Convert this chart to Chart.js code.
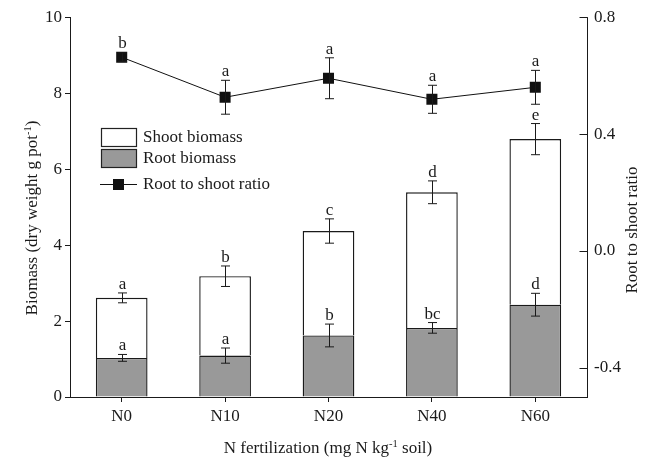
<!DOCTYPE html>
<html><head><meta charset="utf-8">
<script src="https://cdn.jsdelivr.net/npm/chart.js@4"></script>
<style>html,body{margin:0;padding:0;background:#fff}#wrap{width:648px;height:459px}</style>
</head><body><div id="wrap"><canvas id="c" width="648" height="459"></canvas></div>
<script>
const categories = ['N0','N10','N20','N40','N60'];
const rootBiomass = [1.03, 1.09, 1.62, 1.82, 2.43];
const shootBiomass = [1.58, 2.09, 2.75, 3.57, 4.36];
const rootErr = [0.09, 0.20, 0.30, 0.14, 0.30];
const totalErr = [0.13, 0.27, 0.32, 0.30, 0.41];
const ratio = [0.663, 0.526, 0.591, 0.519, 0.560];
const ratioErr = [0.015, 0.058, 0.070, 0.048, 0.058];
const totalLetters = ['a','b','c','d','e'];
const rootLetters = ['a','a','b','bc','d'];
const ratioLetters = ['b','a','a','a','a'];
const leftTicks = [0,2,4,6,8,10];
const rightTicks = [-0.4, 0.0, 0.4, 0.8];

const FONT = 'Liberation Serif, Times New Roman, serif';
const INK = '#1a1a1a';
const FS = 17;

function drawRich(ctx, parts, size) {
  let w = 0;
  parts.forEach(p => { ctx.font = (p.sup ? size*0.62 : size) + 'px ' + FONT; p.w = ctx.measureText(p.t).width; w += p.w; });
  let x = -w/2;
  parts.forEach(p => {
    ctx.font = (p.sup ? size*0.62 : size) + 'px ' + FONT;
    ctx.fillText(p.t, x, p.sup ? -size*0.38 : 0);
    x += p.w;
  });
}

const extras = {
  id: 'extras',
  afterDatasetsDraw(chart) {
    const ctx = chart.ctx;
    const xs = chart.scales.x, y = chart.scales.y, y2 = chart.scales.y2;
    ctx.save();
    ctx.strokeStyle = INK; ctx.fillStyle = INK; ctx.lineWidth = 1;
    const cap = 4.5;
    function eb(x, top, bot) {
      ctx.beginPath();
      ctx.moveTo(x, top); ctx.lineTo(x, bot);
      ctx.moveTo(x-cap, top); ctx.lineTo(x+cap, top);
      ctx.moveTo(x-cap, bot); ctx.lineTo(x+cap, bot);
      ctx.stroke();
    }
    ctx.font = FS + 'px ' + FONT; ctx.textAlign = 'center'; ctx.textBaseline = 'alphabetic';
    categories.forEach((c, i) => {
      const x = Math.round(xs.getPixelForValue(i)) + 0.5;
      const tot = rootBiomass[i] + shootBiomass[i];
      const tTop = y.getPixelForValue(tot + totalErr[i]);
      eb(x, tTop, y.getPixelForValue(tot - totalErr[i]));
      ctx.fillText(totalLetters[i], x, tTop - 4);
      const rTop = y.getPixelForValue(rootBiomass[i] + rootErr[i]);
      eb(x, rTop, y.getPixelForValue(rootBiomass[i] - rootErr[i]));
      ctx.fillText(rootLetters[i], x, rTop - 4);
      const pTop = y2.getPixelForValue(ratio[i] + ratioErr[i]);
      eb(x, pTop, y2.getPixelForValue(ratio[i] - ratioErr[i]));
      const py = y2.getPixelForValue(ratio[i]);
      ctx.fillText(ratioLetters[i], x, Math.min(pTop, py - 5.5) - 4);
    });
    ctx.restore();
  },
  afterDraw(chart) {
    const ctx = chart.ctx;
    const a = chart.chartArea;
    const y2 = chart.scales.y2;
    ctx.save();
    ctx.strokeStyle = INK; ctx.lineWidth = 1;
    // right axis line and inward ticks
    const rx = Math.round(a.right) + 0.5;
    ctx.beginPath(); ctx.moveTo(rx, a.top); ctx.lineTo(rx, a.bottom); ctx.stroke();
    rightTicks.forEach(v => {
      const yy = Math.round(y2.getPixelForValue(v)) + 0.5;
      ctx.beginPath(); ctx.moveTo(rx - 8, yy); ctx.lineTo(rx, yy); ctx.stroke();
    });
    // legend
    ctx.lineWidth = 1.2;
    ctx.fillStyle = '#fff'; ctx.strokeStyle = '#222';
    ctx.fillRect(101.5, 128.5, 35, 18); ctx.strokeRect(101.5, 128.5, 35, 18);
    ctx.fillStyle = '#999';
    ctx.fillRect(101.5, 149.5, 35, 18); ctx.strokeRect(101.5, 149.5, 35, 18);
    ctx.lineWidth = 1;
    ctx.strokeStyle = '#111';
    ctx.beginPath(); ctx.moveTo(100, 184.5); ctx.lineTo(137, 184.5); ctx.stroke();
    ctx.fillStyle = '#111'; ctx.fillRect(113, 179, 11, 11);
    ctx.fillStyle = INK; ctx.font = FS + 'px ' + FONT; ctx.textAlign = 'left'; ctx.textBaseline = 'middle';
    ctx.fillText('Shoot biomass', 143, 137.5);
    ctx.fillText('Root biomass', 143, 159);
    ctx.fillText('Root to shoot ratio', 143, 185);
    // axis titles
    ctx.textAlign = 'left'; ctx.textBaseline = 'alphabetic';
    ctx.save(); ctx.translate(37, 218); ctx.rotate(-Math.PI/2);
    drawRich(ctx, [{t:'Biomass (dry weight g pot'},{t:'-1',sup:true},{t:')'}], FS);
    ctx.restore();
    ctx.save(); ctx.translate(637, 230); ctx.rotate(-Math.PI/2);
    drawRich(ctx, [{t:'Root to shoot ratio'}], FS);
    ctx.restore();
    ctx.save(); ctx.translate(328, 453);
    drawRich(ctx, [{t:'N fertilization (mg N kg'},{t:'-1',sup:true},{t:' soil)'}], FS);
    ctx.restore();
    ctx.restore();
  }
};

const tickFont = {family: FONT, size: FS};
new Chart(document.getElementById('c'), {
  type: 'bar',
  data: {
    labels: categories,
    datasets: [
      {type:'line', label:'Root to shoot ratio', data: ratio, yAxisID:'y2', borderColor:'#111', borderWidth:1,
       pointStyle:'rect', pointRadius:7.8, pointBackgroundColor:'#111', pointBorderColor:'#111', pointBorderWidth:0, order:0},
      {label:'Root biomass', data: rootBiomass, backgroundColor:'#999', borderColor:'#1a1a1a', borderWidth:1.4,
       borderSkipped:'start', stack:'s', yAxisID:'y', order:1},
      {label:'Shoot biomass', data: shootBiomass, backgroundColor:'#fff', borderColor:'#1a1a1a', borderWidth:1.4,
       borderSkipped:'start', stack:'s', yAxisID:'y', order:2}
    ]
  },
  options: {
    responsive:false, animation:false, devicePixelRatio:1,
    layout:{padding:{top:17, left:0, right:0, bottom:0}},
    plugins:{legend:{display:false}, tooltip:{enabled:false}},
    datasets:{bar:{categoryPercentage:1, barPercentage:0.5}},
    scales: {
      x: {stacked:true, offset:true,
          grid:{offset:false, drawOnChartArea:false, drawTicks:true, tickLength:5, color:INK},
          border:{color:INK, width:1},
          ticks:{font:tickFont, color:INK, padding:4, maxRotation:0},
          afterFit(s){ s.height = 62; }},
      y: {stacked:true, position:'left', min:0, max:10,
          afterBuildTicks(s){ s.ticks = leftTicks.map(v => ({value:v})); },
          grid:{drawOnChartArea:false, drawTicks:true, tickLength:5, color:INK},
          border:{color:INK, width:1},
          ticks:{font:tickFont, color:INK, padding:3},
          afterFit(s){ s.width = 70; }},
      y2: {position:'right', min:-0.5, max:0.8,
          afterBuildTicks(s){ s.ticks = rightTicks.map(v => ({value:v})); },
          grid:{drawOnChartArea:false, drawTicks:false},
          border:{display:false},
          ticks:{font:tickFont, color:INK, padding:7, callback:v => Number(v).toFixed(1)},
          afterFit(s){ s.width = 61; }}
    }
  },
  plugins:[extras]
});
</script>
</body></html>
